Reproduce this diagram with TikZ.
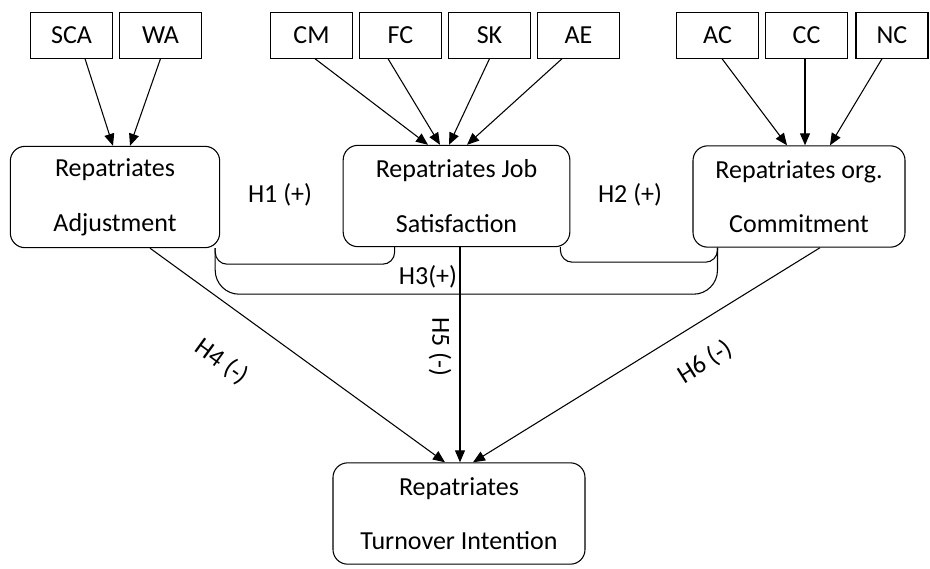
\documentclass[tikz,border=0pt]{standalone}
\usepackage{fontspec}
\setmainfont{Carlito}
\usetikzlibrary{arrows.meta,calc}

\begin{document}
\begin{tikzpicture}
 [x=0.75pt,y=-0.75pt,line width=0.8pt,
>={Triangle[length=9pt,width=7.5pt]},
item/.style={draw,minimum width=62pt,minimum height=34pt,inner sep=0pt,
font=\fontsize{19.5}{22}\selectfont},
construct/.style={draw,rounded corners=11pt,align=center,inner sep=0pt,
minimum width=#1,minimum height=76pt,font=\fontsize{19.5}{41}\selectfont},
hyp/.style={font=\fontsize{19.5}{22}\selectfont}]
\useasboundingbox (0,0) rectangle (930,568);

\node (sca) at (71.5,35.5) [item] {SCA};
\node (wa) at (160.5,35.5) [item] {WA};
\node (cm) at (311.5,35.5) [item] {CM};
\node (fc) at (400.5,35.5) [item] {FC};
\node (sk) at (489.5,35.5) [item] {SK};
\node (ae) at (578.5,35.5) [item] {AE};
\node (ac) at (717.5,35.5) [item] {AC};
\node (cc) at (806.5,35.5) [item] {CC};
\node (nc) at (892,35.5) [item,minimum width=54pt] {NC};

\node (adj) at (115,197) [construct=157pt] {Repatriates\\Adjustment};
\node (job) at (456.5,196) [construct=170pt] {Repatriates Job\\Satisfaction};
\node (com) at (799,196.5) [construct=159pt] {Repatriates org.\\Commitment};
\node (turn) at (459,513.5) [construct=189pt] {Repatriates\\Turnover Intention};

\draw[->] ($(sca.south)+(13.5,0)$) -- ($(adj.north)+(-2,0)$);
\draw[->] (wa.south) -- ($(adj.north)+(15,0)$);

\draw[->] ($(cm.south)+(3.5,0)$) -- ($(job.north)+(-28.5,0)$);
\draw[->] ($(fc.south)+(-12.5,0)$) -- ($(job.north)+(-16.5,0)$);
\draw[->] (sk.south) -- ($(job.north)+(-7.5,0)$);
\draw[->] ($(ae.south)+(-16.5,0)$) -- ($(job.north)+(10.5,0)$);

\draw[->] ($(ac.south)+(4.5,0)$) -- ($(com.north)+(-12,0)$);
\draw[->] ($(cc.south)+(-1.5,0)$) -- ($(com.north)+(6,0)$);
\draw[->] ($(nc.south)+(-10,0)$) -- ($(com.north)+(31,0)$);

\draw[rounded corners=9pt] ($(adj.south east)+(-5,0)$) -- ++(0,16) -| ($(job.south west)+(52,0)$);
\draw[rounded corners=9pt] ($(job.south east)+(-10,0)$) -- ++(0,15) -| ($(com.south west)+(25,0)$);
\draw[rounded corners=18pt] ($(adj.south east)+(-5,0)$) -- ++(0,46) -| ($(com.south west)+(25,0)$);

\draw[->] ($(adj.south)+(35,0)$) -- ($(turn.north)+(-14,0)$);
\draw[->] ($(job.south)+(3.5,0)$) -- ($(turn.north)+(1,0)$);
\draw[->] ($(com.south)+(21,0)$) -- ($(turn.north)+(14,0)$);

\node (h1) at (280,195) [hyp] {H1 (+)};
\node (h2) at (630,195) [hyp] {H2 (+)};
\node (h3) at (428,277) [hyp] {H3(+)};
\node (h4) at (222,362) [hyp,rotate=-36] {H4 (-)};
\node (h5) at (440,347) [hyp,rotate=-90] {H5 (-)};
\node (h6) at (705,362) [hyp,rotate=32] {H6 (-)};
\end{tikzpicture}
\end{document}
